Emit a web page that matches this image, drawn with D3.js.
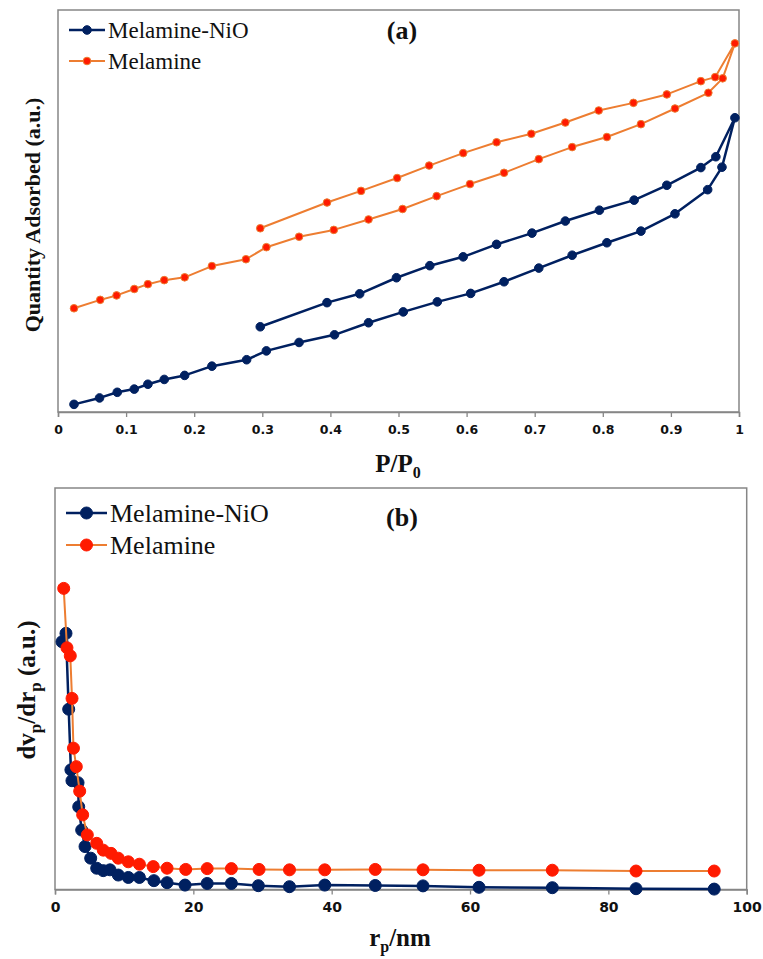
<!DOCTYPE html>
<html>
<head>
<meta charset="utf-8">
<script src="https://d3js.org/d3.v7.min.js"></script>
<style>
  html, body { margin: 0; padding: 0; background: #fff; }
  svg { display: block; }
</style>
</head>
<body>
<svg id="chart" width="763" height="959"></svg>
<script>
// ── (a) isotherms: P/P0 vs quantity adsorbed (a.u.) ─────────
const niOAdsP = [0.0235,0.061,0.087,0.112,0.132,0.156,0.186,0.226,0.277,0.306,0.354,0.406,0.456,0.507,0.557,0.606,0.655,0.706,0.755,0.806,0.856,0.906,0.954,0.975,0.994];
const niOAdsQ = [1.9,3.5,4.9,5.7,6.9,8.1,9.1,11.4,13.0,15.2,17.3,19.2,22.2,24.9,27.4,29.5,32.4,35.8,39.0,42.1,45.0,49.3,55.3,60.9,73.2];
const niODesP = [0.966,0.944,0.894,0.846,0.795,0.745,0.696,0.644,0.595,0.546,0.497,0.443,0.395,0.297];
const niODesQ = [63.5,60.8,56.4,52.7,50.2,47.5,44.5,41.7,38.6,36.4,33.4,29.4,27.2,21.2];

const melAdsP = [0.0235,0.062,0.086,0.112,0.132,0.156,0.186,0.226,0.276,0.306,0.354,0.405,0.456,0.506,0.556,0.605,0.655,0.706,0.755,0.806,0.856,0.906,0.955,0.976,0.994];
const melAdsQ = [25.8,27.9,29.0,30.6,31.8,32.8,33.5,36.3,38.0,41.0,43.6,45.3,47.9,50.5,53.7,56.7,59.5,62.9,65.9,68.4,71.6,75.5,79.4,83.0,91.7];
const melDesP = [0.965,0.944,0.894,0.845,0.794,0.745,0.695,0.644,0.595,0.545,0.498,0.445,0.395,0.297];
const melDesQ = [83.3,82.3,79.0,76.9,75.0,72.0,69.2,67.1,64.4,61.3,58.2,55.0,52.1,45.7];

const ticksA = [0,0.1,0.2,0.3,0.4,0.5,0.6,0.7,0.8,0.9,1];
const tickLabelsA = ['0','0.1','0.2','0.3','0.4','0.5','0.6','0.7','0.8','0.9','1'];

// ── (b) pore size distribution: r_p (nm) vs dv/dr (a.u.) ─────
const niOR  = [1.01,1.59,1.98,2.3,2.45,3.33,3.43,3.86,4.34,5.16,6.03,6.98,7.95,9.15,10.6,12.2,14.3,16.2,18.8,22.0,25.5,29.4,33.9,39.0,46.3,53.2,61.3,71.9,84.0,95.3];
const niODv = [61.7,63.8,44.9,29.8,27.1,26.6,20.6,14.8,10.7,7.8,5.3,4.7,4.9,3.6,3.0,3.0,2.2,1.7,1.1,1.5,1.5,0.95,0.7,1.1,1.0,0.9,0.55,0.45,0.2,0.1];
const melR  = [1.26,1.73,2.21,2.46,2.67,3.08,3.57,4.0,4.67,6.03,6.98,8.1,9.15,10.6,12.2,14.2,16.2,18.9,22.0,25.5,29.5,33.9,39.0,46.3,53.2,61.3,71.9,84.0,95.3];
const melDv = [75.0,60.2,58.2,47.6,35.2,30.6,24.5,18.6,13.6,11.5,9.8,9.0,7.8,6.9,6.3,5.7,5.3,5.0,5.2,5.2,5.0,4.9,4.9,5.0,4.9,4.8,4.8,4.6,4.6];

const ticksB = [0,20,40,60,80,100];
const seriesNames = ['Melamine-NiO', 'Melamine'];

// ── styles ────────────────────────────────────────────────
const NAVY = '#002060', ORANGE = '#ed7d31', RED = '#ff1a00', FRAME = '#868686';
const SERIF = '"Liberation Serif", "Times New Roman", serif';
const SANS = '"DejaVu Sans", Verdana, sans-serif';

const svg = d3.select('#chart');

function zip(xs, ys) { return xs.map((x, i) => ({ x, y: ys[i] })); }

function drawPanel(cfg) {
  const x = d3.scaleLinear().domain(cfg.xDomain).range([cfg.left, cfg.right]);
  const y = d3.scaleLinear().domain([0, 100]).range([cfg.bottom, cfg.top]);
  const g = svg.append('g');

  // plot frame
  g.append('rect')
    .attr('x', cfg.left).attr('y', cfg.top)
    .attr('width', cfg.right - cfg.left).attr('height', cfg.bottom - cfg.top)
    .attr('fill', 'none').attr('stroke', FRAME).attr('stroke-width', 1.5);

  // x axis
  const axis = d3.axisBottom(x).tickValues(cfg.ticks).tickSize(5).tickPadding(8)
    .tickFormat((d, i) => cfg.tickLabels[i]);
  const ax = g.append('g').attr('transform', `translate(0,${cfg.bottom})`).call(axis);
  ax.select('.domain').attr('stroke', FRAME).attr('stroke-width', 1.5);
  ax.selectAll('.tick line').attr('stroke', FRAME).attr('stroke-width', 1.3);
  ax.selectAll('.tick text')
    .attr('font-family', SANS).attr('font-weight', 'bold')
    .attr('font-size', cfg.tickSize).attr('fill', '#111');

  const line = d3.line().x(d => x(d.x)).y(d => y(d.y));

  cfg.series.forEach(s => {
    g.append('path').datum(s.data)
      .attr('d', line).attr('fill', 'none')
      .attr('stroke', s.stroke).attr('stroke-width', s.width)
      .attr('stroke-linejoin', 'round');
    g.append('g').selectAll('circle').data(s.data).join('circle')
      .attr('cx', d => x(d.x)).attr('cy', d => y(d.y))
      .attr('r', s.r).attr('fill', s.fill)
      .attr('stroke', s.markStroke).attr('stroke-width', 1);
  });

  // legend
  cfg.series.forEach((s, i) => {
    const ly = cfg.legendY[i];
    g.append('line')
      .attr('x1', cfg.legendX[0]).attr('x2', cfg.legendX[1])
      .attr('y1', ly).attr('y2', ly)
      .attr('stroke', s.stroke).attr('stroke-width', s.width);
    g.append('circle')
      .attr('cx', (cfg.legendX[0] + cfg.legendX[1]) / 2).attr('cy', ly)
      .attr('r', s.r).attr('fill', s.fill)
      .attr('stroke', s.markStroke).attr('stroke-width', 1);
    g.append('text')
      .attr('x', cfg.legendX[1] + 3).attr('y', ly + cfg.legendFont * 0.33)
      .attr('font-family', SERIF).attr('font-size', cfg.legendFont)
      .attr('fill', '#111').text(seriesNames[i]);
  });

  // panel tag
  g.append('text')
    .attr('x', cfg.tagX).attr('y', cfg.tagY)
    .attr('text-anchor', 'middle')
    .attr('font-family', SERIF).attr('font-weight', 'bold').attr('font-size', 26)
    .attr('fill', '#111').text(cfg.tag);

  return g;
}

// panel (a)
const gA = drawPanel({
  left: 58, right: 739, top: 10, bottom: 412,
  xDomain: [0, 1], ticks: ticksA, tickLabels: tickLabelsA, tickSize: 12.5,
  legendX: [69, 105], legendY: [30, 61], legendFont: 23,
  tag: '(a)', tagX: 402, tagY: 39,
  series: [
    { data: zip(niOAdsP.concat(niODesP), niOAdsQ.concat(niODesQ)),
      stroke: NAVY, width: 2.5, r: 4.3, fill: NAVY, markStroke: NAVY },
    { data: zip(melAdsP.concat(melDesP), melAdsQ.concat(melDesQ)),
      stroke: ORANGE, width: 2, r: 3.8, fill: RED, markStroke: ORANGE }
  ]
});

gA.append('text')
  .attr('x', 398).attr('y', 472)
  .attr('text-anchor', 'middle')
  .attr('font-family', SERIF).attr('font-weight', 'bold').attr('font-size', 25)
  .attr('fill', '#111')
  .call(t => {
    t.append('tspan').text('P/P');
    t.append('tspan').attr('font-size', 16).attr('dy', 6).text('0');
  });

gA.append('text')
  .attr('transform', 'translate(40,215) rotate(-90)')
  .attr('text-anchor', 'middle')
  .attr('font-family', SERIF).attr('font-weight', 'bold').attr('font-size', 22)
  .attr('fill', '#111')
  .text('Quantity Adsorbed (a.u.)');

// panel (b)
const gB = drawPanel({
  left: 55, right: 746.7, top: 488, bottom: 889.5,
  xDomain: [0, 100], ticks: ticksB, tickLabels: ticksB.map(String), tickSize: 14,
  legendX: [66, 107], legendY: [513, 545], legendFont: 26,
  tag: '(b)', tagX: 402, tagY: 526,
  series: [
    { data: zip(niOR, niODv),
      stroke: NAVY, width: 2.5, r: 6, fill: NAVY, markStroke: NAVY },
    { data: zip(melR, melDv),
      stroke: ORANGE, width: 2, r: 6, fill: RED, markStroke: RED }
  ]
});

gB.append('text')
  .attr('x', 400).attr('y', 946)
  .attr('text-anchor', 'middle')
  .attr('font-family', SERIF).attr('font-weight', 'bold').attr('font-size', 25)
  .attr('fill', '#111')
  .call(t => {
    t.append('tspan').text('r');
    t.append('tspan').attr('font-size', 16).attr('dy', 6).text('p');
    t.append('tspan').attr('dy', -6).text('/nm');
  });

gB.append('text')
  .attr('transform', 'translate(35,690) rotate(-90)')
  .attr('text-anchor', 'middle')
  .attr('font-family', SERIF).attr('font-weight', 'bold').attr('font-size', 25)
  .attr('fill', '#111')
  .call(t => {
    t.append('tspan').text('dv');
    t.append('tspan').attr('font-size', 17).attr('dy', 6).text('p');
    t.append('tspan').attr('dy', -6).text('/dr');
    t.append('tspan').attr('font-size', 17).attr('dy', 6).text('p');
    t.append('tspan').attr('dy', -6).text(' (a.u.)');
  });
</script>
</body>
</html>
